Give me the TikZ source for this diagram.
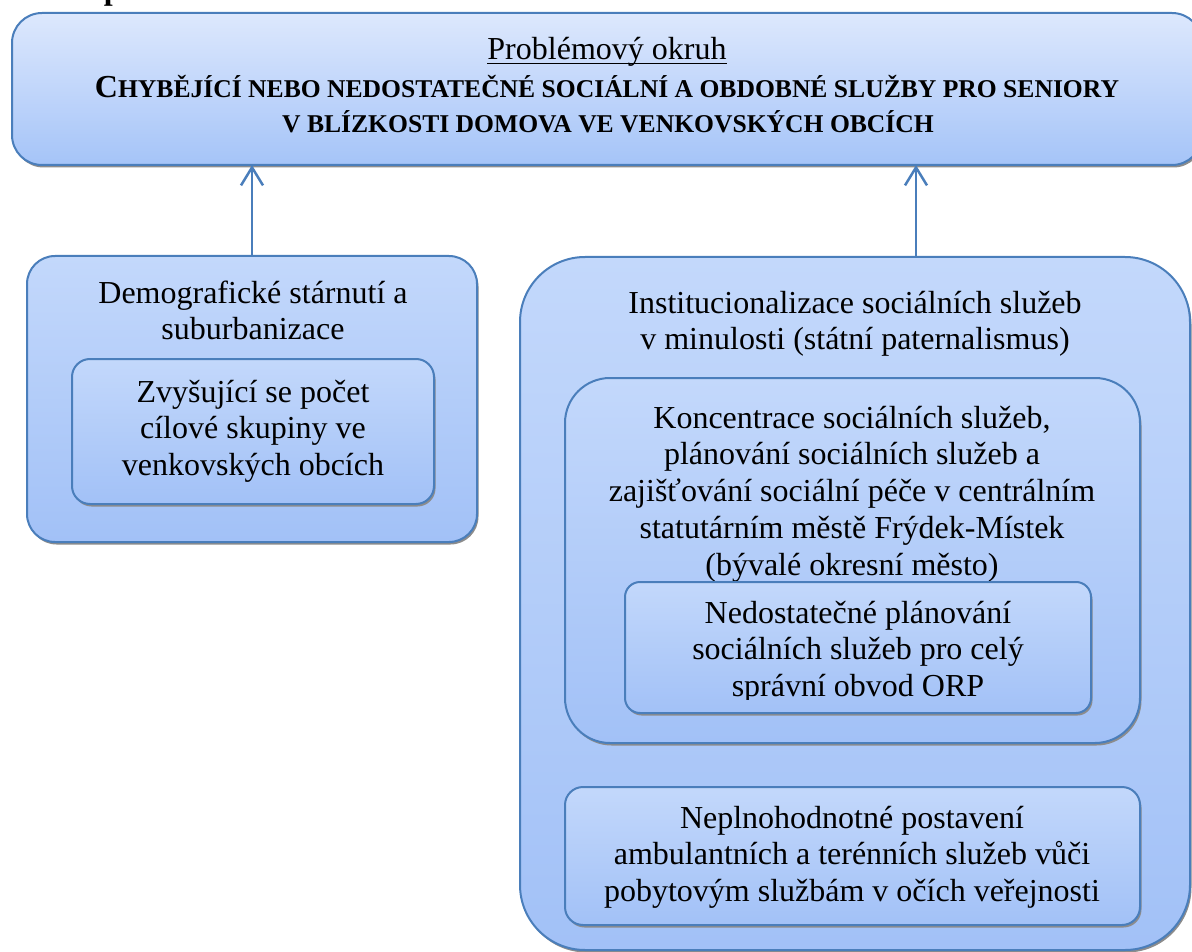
\documentclass[tikz,border=0pt]{standalone}
\usepackage{fontspec}
\setmainfont{Liberation Serif}
\usetikzlibrary{arrows.meta,shadows}
\definecolor{bord}{HTML}{4A7EBB}
\definecolor{topA}{HTML}{DDE8FD}
\definecolor{topB}{HTML}{A5C4F8}
\definecolor{boxA}{HTML}{C3D8FB}
\definecolor{boxB}{HTML}{A2C1F7}
\newcommand\smcp[1]{{\fontsize{25.6}{30}\selectfont #1}}
\newcommand\mlines[1]{\vtop{\lineskiplimit=-100pt\halign{\hfil##\hfil\cr#1\crcr}}}
\tikzset{
 box/.style={draw=bord, line width=2pt, top color=boxA, bottom color=boxB,
   drop shadow={shadow xshift=1.5pt, shadow yshift=-2.5pt, fill=black!45, opacity=1},
   inner sep=0pt, outer sep=0pt},
 topbox/.style={box, top color=topA, bottom color=topB},
 body/.style={font=\fontsize{32}{36.8}\selectfont, anchor=base, inner sep=0pt},
 arr/.style={draw=bord, line width=2.5pt, -{Straight Barb[length=18pt,width=22pt,line width=2.5pt]}}
}
\begin{document}
\begin{tikzpicture}[x=1pt,y=-1pt]
\useasboundingbox (0,0) rectangle (1192,952);
\clip (0,0) rectangle (1192,952);
% clipped heading
\node[anchor=base west, inner sep=0pt, font=\fontsize{32}{36.8}\selectfont\bfseries] (head) at (11,0) {Strom problému};
% top box
\node[topbox, minimum width=1190pt, minimum height=152pt, rounded corners=30pt] (T) at (607,89) {};
\node[anchor=base, inner sep=0pt, font=\fontsize{32}{37}\selectfont] (pt) at (607,60) {Problémový okruh};
\draw[line width=1.4pt] ([yshift=-3.5pt]pt.base west) -- ([yshift=-3.5pt]pt.base east);
\node[anchor=base, inner sep=0pt, font=\fontsize{32}{37}\selectfont\bfseries] (t1) at (607,98) {C\smcp{HYBĚJÍCÍ NEBO NEDOSTATEČNÉ SOCIÁLNÍ A OBDOBNÉ SLUŽBY PRO SENIORY}};
\node[anchor=base, inner sep=0pt, font=\fontsize{32}{37}\selectfont\bfseries] (t2) at (608,133) {\smcp{V BLÍZKOSTI DOMOVA VE VENKOVSKÝCH OBCÍCH}};
% left box
\node[box, minimum width=450pt, minimum height=286pt, rounded corners=28pt] (L) at (252,399) {};
\node[body] (Lt) at (253,303) {\mlines{Demografické stárnutí a\cr suburbanizace}};
\node[box, minimum width=362pt, minimum height=145pt, rounded corners=18pt] (Li) at (253,431.5) {};
\node[body] (Lit) at (253,402) {\mlines{Zvyšující se počet\cr cílové skupiny ve\cr venkovských obcích}};
% right big box
\node[box, minimum width=670pt, minimum height=693pt, rounded corners=65pt] (R) at (855,603.5) {};
\node[body] (Rt) at (855,313) {\mlines{Institucionalizace sociálních služeb\cr v minulosti (státní paternalismus)}};
\node[box, minimum width=575pt, minimum height=365pt, rounded corners=45pt] (M) at (852.5,560.5) {};
\node[body] (Mt) at (852,428) {\mlines{Koncentrace sociálních služeb,\cr plánování sociálních služeb a\cr zajišťování sociální péče v centrálním\cr statutárním městě Frýdek-Místek\cr (bývalé okresní město)}};
\node[box, minimum width=466pt, minimum height=131pt, rounded corners=15pt] (N) at (858,647.5) {};
\begin{scope}
\clip (600,585) rectangle (1100,699);
\node[body] (Nt) at (858,623) {\mlines{Nedostatečné plánování\cr sociálních služeb pro celý\cr správní obvod ORP}};
\end{scope}
\node[box, minimum width=575pt, minimum height=138pt, rounded corners=18pt] (B) at (852.5,856) {};
\node[body] (Bt) at (852,828) {\mlines{Neplnohodnotné postavení\cr ambulantních a terénních služeb vůči\cr pobytovým službám v očích veřejnosti}};
% arrows
\draw[arr] (L.north) -- (L.north |- T.south);
\draw[arr] ([xshift=61pt]R.north) -- ([xshift=61pt]R.north |- T.south);
\end{tikzpicture}
\end{document}
